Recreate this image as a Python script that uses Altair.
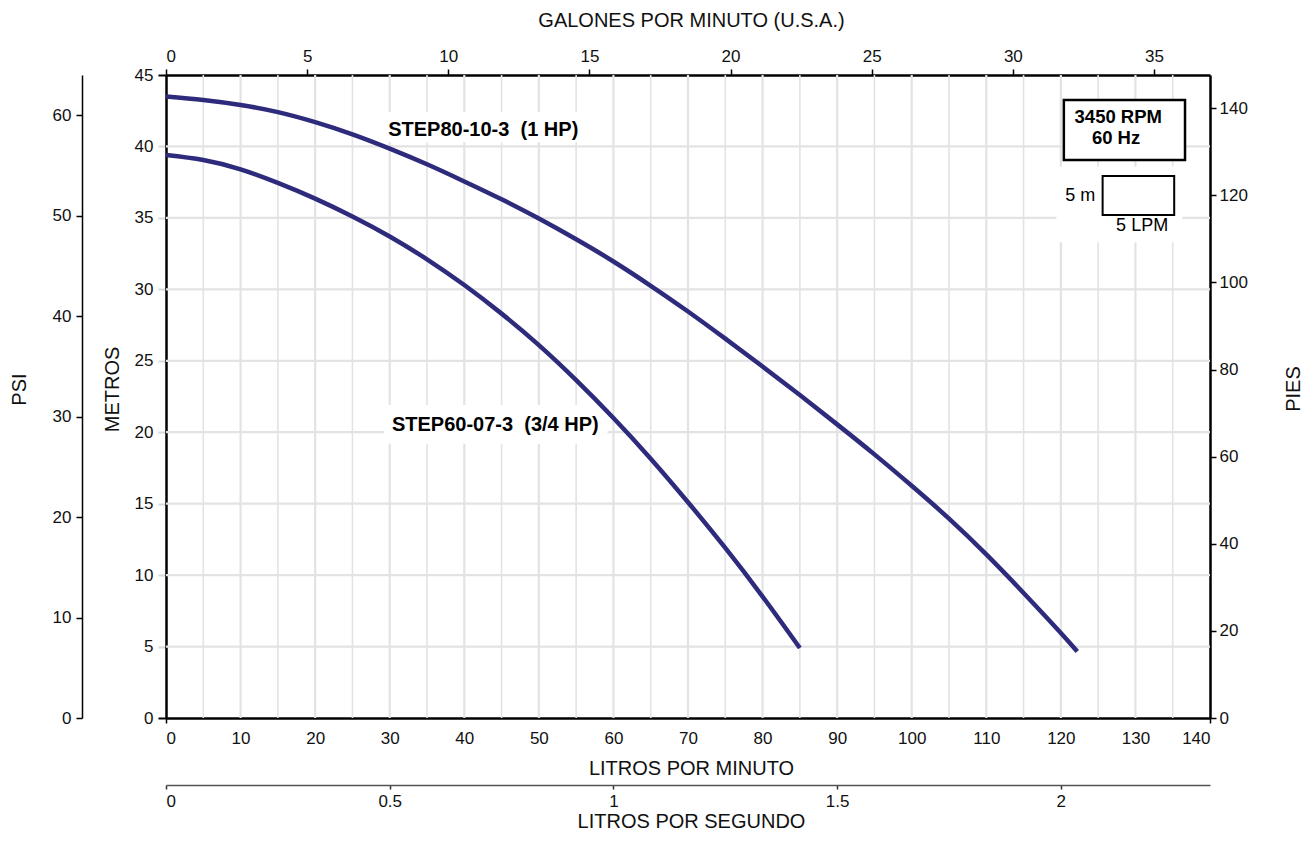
import altair as alt
import pandas as pd

# ---------------- data ----------------
LPM_1HP = [0, 5, 10, 15, 20, 25, 30, 35, 40, 45, 50, 55, 60, 65, 70, 75, 80, 85, 90, 95, 100, 105, 110, 115, 120, 122.2]
M_1HP = [43.5, 43.25, 42.9, 42.4, 41.7, 40.85, 39.85, 38.75, 37.55, 36.3, 34.95, 33.5, 31.95, 30.25, 28.45, 26.55,
         24.6, 22.6, 20.55, 18.45, 16.25, 13.95, 11.45, 8.75, 5.95, 4.65]
LPM_34HP = [0, 5, 10, 15, 20, 25, 30, 35, 40, 45, 50, 55, 60, 65, 70, 75, 80, 85]
M_34HP = [39.4, 39.05, 38.4, 37.45, 36.35, 35.1, 33.7, 32.1, 30.3, 28.3, 26.1, 23.65, 21.0, 18.15, 15.1, 11.9, 8.5, 4.9]
MODELS = ["STEP80-10-3 \u00a0(1 HP)", "STEP60-07-3 \u00a0(3/4 HP)"]

# curve labels (lpm, metres)
LABEL_LPM = [29.8, 30.3]
LABEL_M = [41.15, 20.5]
# white patches behind labels / legend
BG_X1 = [28.8, 29.2, 119.4]
BG_X2 = [56.4, 59.2, 136.3]
BG_Y1 = [42.4, 21.9, 38.6]
BG_Y2 = [40.3, 19.2, 33.3]
# legend boxes
BOX_X1 = [120.4, 125.6]
BOX_X2 = [136.65, 135.2]
BOX_Y1 = [43.25, 37.93]
BOX_Y2 = [39.05, 35.2]
BOX_W = [2.5, 2.0]
RPM_TEXT = ["3450 RPM", "60 Hz"]
RPM_LPM = [127.7, 127.4]
RPM_M = [42.03, 40.62]
SCALE_M_TEXT = ["5 m"]
SCALE_M_LPM = [124.6]
SCALE_M_M = [36.56]
SCALE_LPM_TEXT = ["5 LPM"]
SCALE_LPM_LPM = [130.9]
SCALE_LPM_M = [34.43]

# axes
LPM_MAX = 140
M_MAX = 45
LPM_TICKS = list(range(0, 141, 10))
M_TICKS = list(range(0, 46, 5))
GAL_TICKS = list(range(0, 36, 5))
FT_TICKS = list(range(0, 141, 20))
PSI_TICKS = list(range(0, 61, 10))
LPS_TICKS = [0, 0.5, 1, 1.5, 2]
GRID_LPM_MAJOR = list(range(10, 140, 10))
GRID_LPM_MINOR = list(range(5, 140, 10))
GRID_M = list(range(5, 45, 5))
L_PER_GAL = 3.785411784
FT_PER_M = 3.28084
PSI_PER_M = 1.42197

W, H = 1044, 643
FONT = "Liberation Sans"
CURVE_COLOR = "#2e2b7d"
GRID_COLOR = "#e3e3e3"


def xs():
    return alt.Scale(domain=[0, LPM_MAX], nice=False, zero=False)


def ys():
    return alt.Scale(domain=[0, M_MAX], nice=False, zero=False)


curves_df = pd.DataFrame({
    "lpm": LPM_1HP + LPM_34HP,
    "m": M_1HP + M_34HP,
    "model": [MODELS[0]] * len(LPM_1HP) + [MODELS[1]] * len(LPM_34HP),
})

grid_major = alt.Chart(pd.DataFrame({"lpm": GRID_LPM_MAJOR})).mark_rule(
    color=GRID_COLOR, strokeWidth=2.2).encode(x=alt.X("lpm:Q", scale=xs(), axis=None))
grid_minor = alt.Chart(pd.DataFrame({"lpm": GRID_LPM_MINOR})).mark_rule(
    color=GRID_COLOR, strokeWidth=1.6).encode(x=alt.X("lpm:Q", scale=xs(), axis=None))
grid_h = alt.Chart(pd.DataFrame({"m": GRID_M})).mark_rule(
    color=GRID_COLOR, strokeWidth=2.2).encode(y=alt.Y("m:Q", scale=ys(), axis=None))

bg = alt.Chart(pd.DataFrame({"x1": BG_X1, "x2": BG_X2, "y1": BG_Y1, "y2": BG_Y2})).mark_rect(
    color="white").encode(
    x=alt.X("x1:Q", scale=xs(), axis=None), x2="x2:Q",
    y=alt.Y("y1:Q", scale=ys(), axis=None), y2="y2:Q")

curves = alt.Chart(curves_df).mark_line(
    interpolate="natural", strokeWidth=4.5, strokeCap="butt").encode(
    x=alt.X("lpm:Q", scale=xs(), axis=alt.Axis(
        orient="bottom", values=LPM_TICKS, grid=False, title="LITROS POR MINUTO",
        domainColor="black", domainWidth=2.5,
        tickColor={"condition": {"test": "datum.value == 0 || datum.value == 140", "value": "black"},
                   "value": "transparent"},
        tickSize=5, tickWidth=1.5, labelPadding=7,
        titleX=525, titleY=50, titleAlign="center", titleBaseline="middle")),
    y=alt.Y("m:Q", scale=ys(), axis=alt.Axis(
        orient="left", values=M_TICKS, grid=False, title="METROS",
        domainColor="black", domainWidth=2.5,
        tickColor={"condition": {"test": "datum.value == 0 || datum.value == 45", "value": "black"},
                   "value": "#d9d9d9"},
        tickSize=8, tickWidth=2, labelPadding=5,
        titleX=-53.5, titleY=314, titleAngle=270, titleAlign="center", titleBaseline="middle")),
    detail="model:N",
    color=alt.value(CURVE_COLOR),
)

boxes = alt.Chart(pd.DataFrame({"x1": BOX_X1, "x2": BOX_X2, "y1": BOX_Y1, "y2": BOX_Y2, "w": BOX_W})).mark_rect(
    fill="white", stroke="black").encode(
    x=alt.X("x1:Q", scale=xs(), axis=None), x2="x2:Q",
    y=alt.Y("y1:Q", scale=ys(), axis=None), y2="y2:Q",
    strokeWidth=alt.StrokeWidth("w:Q", scale=None))

curve_labels = alt.Chart(pd.DataFrame({"lpm": LABEL_LPM, "m": LABEL_M, "t": MODELS})).mark_text(
    font=FONT, fontSize=20, fontWeight="bold", align="left", baseline="middle", color="black").encode(
    x=alt.X("lpm:Q", scale=xs(), axis=None), y=alt.Y("m:Q", scale=ys(), axis=None), text="t:N")

rpm_text = alt.Chart(pd.DataFrame({"lpm": RPM_LPM, "m": RPM_M, "t": RPM_TEXT})).mark_text(
    font=FONT, fontSize=18.5, fontWeight="bold", align="center", baseline="middle",
    color="black").encode(
    x=alt.X("lpm:Q", scale=xs(), axis=None), y=alt.Y("m:Q", scale=ys(), axis=None), text="t:N")

scale_m_text = alt.Chart(pd.DataFrame({"lpm": SCALE_M_LPM, "m": SCALE_M_M, "t": SCALE_M_TEXT})).mark_text(
    font=FONT, fontSize=18, baseline="middle", align="right", color="black").encode(
    x=alt.X("lpm:Q", scale=xs(), axis=None), y=alt.Y("m:Q", scale=ys(), axis=None), text="t:N")

scale_lpm_text = alt.Chart(pd.DataFrame({"lpm": SCALE_LPM_LPM, "m": SCALE_LPM_M, "t": SCALE_LPM_TEXT})).mark_text(
    font=FONT, fontSize=18, baseline="middle", align="center", color="black").encode(
    x=alt.X("lpm:Q", scale=xs(), axis=None), y=alt.Y("m:Q", scale=ys(), axis=None), text="t:N")

# secondary axes (invisible marks, own scales)
gal_axis = alt.Chart(pd.DataFrame({"gal": GAL_TICKS})).mark_point(opacity=0).encode(
    x=alt.X("gal:Q", scale=alt.Scale(domain=[0, LPM_MAX / L_PER_GAL], nice=False, zero=False),
            axis=alt.Axis(orient="top", values=GAL_TICKS, grid=False, title="GALONES POR MINUTO (U.S.A.)",
                          domainColor="black", domainWidth=2.5, tickColor="black", tickWidth=1.5,
                          tickSize=6, labelPadding=4,
                          titleX=525, titleY=-55, titleAlign="center", titleBaseline="middle")))

ft_axis = alt.Chart(pd.DataFrame({"ft": FT_TICKS})).mark_point(opacity=0).encode(
    y=alt.Y("ft:Q", scale=alt.Scale(domain=[0, M_MAX * FT_PER_M], nice=False, zero=False),
            axis=alt.Axis(orient="right", values=FT_TICKS, grid=False, title="PIES",
                          domainColor="black", domainWidth=2.5, tickColor="black", tickWidth=1.5,
                          tickSize=6, labelPadding=3,
                          titleX=83, titleY=313.5, titleAngle=270, titleAlign="center",
                          titleBaseline="middle")))

psi_axis = alt.Chart(pd.DataFrame({"psi": PSI_TICKS})).mark_point(opacity=0).encode(
    y=alt.Y("psi:Q", scale=alt.Scale(domain=[0, M_MAX * PSI_PER_M], nice=False, zero=False),
            axis=alt.Axis(orient="left", values=PSI_TICKS, grid=False, title="PSI", offset=84,
                          domainColor="black", domainWidth=1.5, tickColor="black", tickWidth=1.5,
                          tickSize=6, labelPadding=5,
                          titleX=-63, titleY=314, titleAngle=270, titleAlign="center",
                          titleBaseline="middle")))

lps_axis = alt.Chart(pd.DataFrame({"lps": LPS_TICKS})).mark_point(opacity=0).encode(
    x=alt.X("lps:Q", scale=alt.Scale(domain=[0, LPM_MAX / 60], nice=False, zero=False),
            axis=alt.Axis(orient="bottom", values=LPS_TICKS, format="~g", grid=False,
                          title="LITROS POR SEGUNDO", offset=67,
                          domainColor="#555555", domainWidth=1.5, tickColor="#333333", tickWidth=1.5,
                          tickSize=4, labelPadding=4,
                          titleX=525, titleY=36, titleAlign="center", titleBaseline="middle")))

chart = alt.layer(
    grid_major, grid_minor, grid_h, bg, curves, boxes, curve_labels, rpm_text, scale_m_text, scale_lpm_text,
    gal_axis, ft_axis, psi_axis, lps_axis,
).resolve_scale(
    x="independent", y="independent"
).properties(
    width=W, height=H,
    autosize=alt.AutoSizeParams(type="none"),
    padding={"left": 158, "top": 67, "right": 95, "bottom": 113},
    background="white",
).configure_view(
    stroke=None
).configure_axis(
    labelFont=FONT, titleFont=FONT, labelFontSize=17, titleFontSize=20,
    labelColor="#111111", titleColor="#111111", titleFontWeight="normal",
)

chart.save("out.html", embed_options={"renderer": "svg", "actions": False})
